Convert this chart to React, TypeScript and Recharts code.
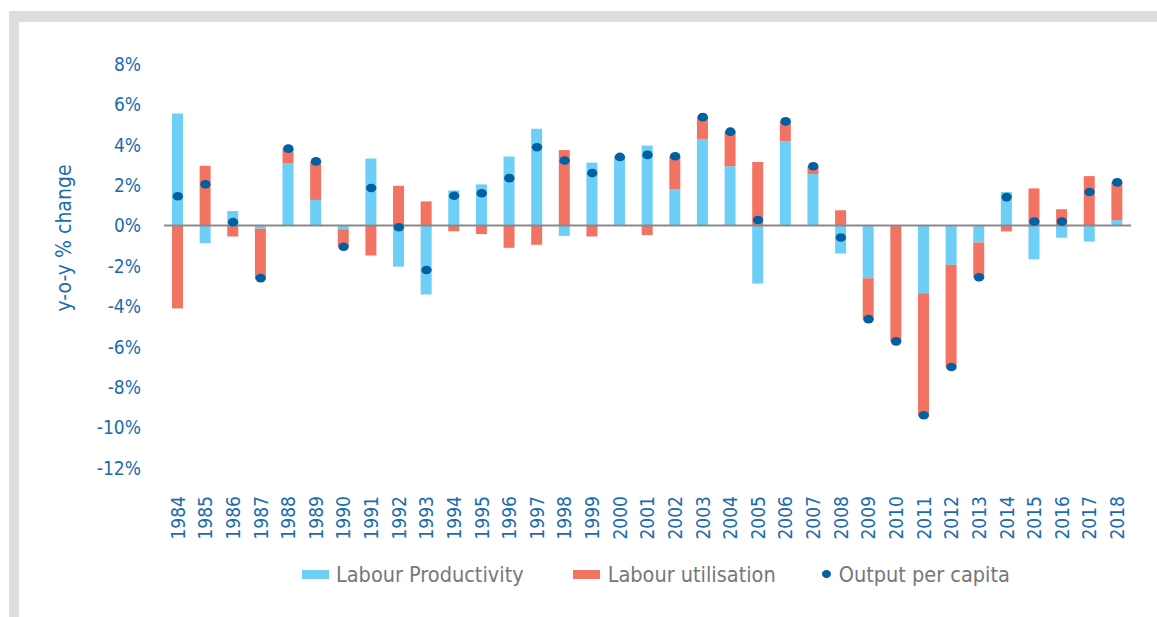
import React from 'react';
import { ComposedChart, Bar, Line, XAxis, YAxis, ReferenceLine, Legend, Label } from 'recharts';

// years shown on the category axis
const years = [
  '1984', '1985', '1986', '1987', '1988', '1989', '1990', '1991', '1992', '1993',
  '1994', '1995', '1996', '1997', '1998', '1999', '2000', '2001', '2002', '2003',
  '2004', '2005', '2006', '2007', '2008', '2009', '2010', '2011', '2012', '2013',
  '2014', '2015', '2016', '2017', '2018',
];

// y-o-y % change
const labourProductivity = [
  5.55, -0.87, 0.72, -0.15, 3.09, 1.27, -0.18, 3.32, -2.03, -3.41,
  1.74, 2.04, 3.42, 4.8, -0.51, 3.12, 3.4, 3.96, 1.79, 4.29,
  2.94, -2.87, 4.17, 2.55, -1.38, -2.61, 0, -3.35, -1.94, -0.84,
  1.66, -1.67, -0.6, -0.79, 0.27,
];

const labourUtilisation = [
  -4.1, 2.96, -0.54, -2.5, 0.74, 1.9, -0.87, -1.48, 1.97, 1.2,
  -0.28, -0.42, -1.1, -0.95, 3.74, -0.54, 0.02, -0.47, 1.64, 1.08,
  1.71, 3.15, 0.99, 0.39, 0.76, -2.02, -5.73, -6.04, -5.06, -1.72,
  -0.29, 1.84, 0.81, 2.45, 1.87,
];

const outputPerCapita = [
  1.45, 2.05, 0.17, -2.6, 3.81, 3.18, -1.05, 1.86, -0.08, -2.2,
  1.48, 1.6, 2.35, 3.88, 3.22, 2.6, 3.4, 3.5, 3.43, 5.37,
  4.65, 0.28, 5.16, 2.94, -0.59, -4.63, -5.73, -9.39, -7.0, -2.56,
  1.41, 0.2, 0.2, 1.66, 2.14,
];

const yTicks = [-12, -10, -8, -6, -4, -2, 0, 2, 4, 6, 8];

const chartData = years.map((year, i) => ({
  year,
  lp: labourProductivity[i],
  lu: labourUtilisation[i],
  opc: outputPerCapita[i],
}));

const FONT = "'DejaVu Sans Condensed', 'DejaVu Sans', sans-serif";
const BLUE_TEXT = '#1b6cae';
const LP_COLOR = '#6dcff6';
const LU_COLOR = '#f37362';
const DOT_COLOR = '#0061a2';

const renderDot = (props: any) => {
  const { cx, cy, index } = props;
  if (cx == null || cy == null) return <g key={`d-${index}`} />;
  return <ellipse key={`d-${index}`} cx={cx} cy={cy} rx={5.2} ry={4.3} fill={DOT_COLOR} />;
};

const YearTick = (props: any) => {
  const { x, y, payload } = props;
  return (
    <g transform={`translate(${x},${y + 20})`}>
      <text
        transform="rotate(-90)"
        textAnchor="end"
        dy="0.36em"
        fill={BLUE_TEXT}
        fontSize={19}
        fontFamily={FONT}
      >
        {payload.value}
      </text>
    </g>
  );
};

const AxisTitle = () => (
  <text
    x={64}
    y={238}
    transform="rotate(-90 64 238)"
    textAnchor="middle"
    dominantBaseline="central"
    fill={BLUE_TEXT}
    fontSize={21}
    fontFamily={FONT}
  >
    y-o-y % change
  </text>
);

const LegendBox = () => (
  <div
    style={{
      height: 52,
      display: 'flex',
      alignItems: 'center',
      paddingLeft: 302,
      fontFamily: FONT,
      fontSize: 21.5,
      color: '#76777a',
    }}
  >
    <span style={{ width: 27, height: 9, background: LP_COLOR, marginRight: 7 }} />
    <span style={{ marginRight: 49 }}>Labour Productivity</span>
    <span style={{ width: 27, height: 9, background: LU_COLOR, marginRight: 8 }} />
    <span style={{ marginRight: 46 }}>Labour utilisation</span>
    <span style={{ width: 9, height: 8, borderRadius: '50%', background: DOT_COLOR, marginRight: 8 }} />
    <span>Output per capita</span>
  </div>
);

export default function App() {
  return (
    <div style={{ position: 'absolute', left: 0, top: 0, width: 1157, height: 617, overflow: 'hidden', background: '#fff' }}>
      <div style={{ position: 'absolute', left: 9, top: 11, width: 1148, height: 606, background: '#dcdddf' }} />
      <div style={{ position: 'absolute', left: 19, top: 22, width: 1138, height: 595, background: '#fff' }} />
      <div style={{ position: 'absolute', left: 0, top: 0 }}>
        <ComposedChart
          width={1157}
          height={617}
          data={chartData}
          stackOffset="sign"
          barCategoryGap={0}
          margin={{ top: 64, right: 26, left: 104, bottom: 17 }}
        >
          <XAxis
            dataKey="year"
            interval={0}
            axisLine={false}
            tickLine={false}
            height={80}
            tick={<YearTick />}
          />
          <YAxis
            domain={[-12, 8]}
            ticks={yTicks}
            width={60}
            axisLine={false}
            tickLine={false}
            tickSize={0}
            tickMargin={23}
            tickFormatter={(v: number) => `${v}%`}
            tick={{ fill: BLUE_TEXT, fontSize: 19, fontFamily: FONT }}
          >
            <Label content={<AxisTitle />} />
          </YAxis>
          <Bar dataKey="lp" name="Labour Productivity" stackId="s" fill={LP_COLOR} barSize={11} isAnimationActive={false} />
          <Bar dataKey="lu" name="Labour utilisation" stackId="s" fill={LU_COLOR} barSize={11} isAnimationActive={false} />
          <ReferenceLine y={0} stroke="#8a8a8a" strokeWidth={2} />
          <Line
            dataKey="opc"
            name="Output per capita"
            stroke="none"
            dot={renderDot}
            activeDot={false}
            isAnimationActive={false}
          />
          <Legend verticalAlign="bottom" content={<LegendBox />} wrapperStyle={{ left: 0, width: 1157 }} />
        </ComposedChart>
      </div>
    </div>
  );
}
